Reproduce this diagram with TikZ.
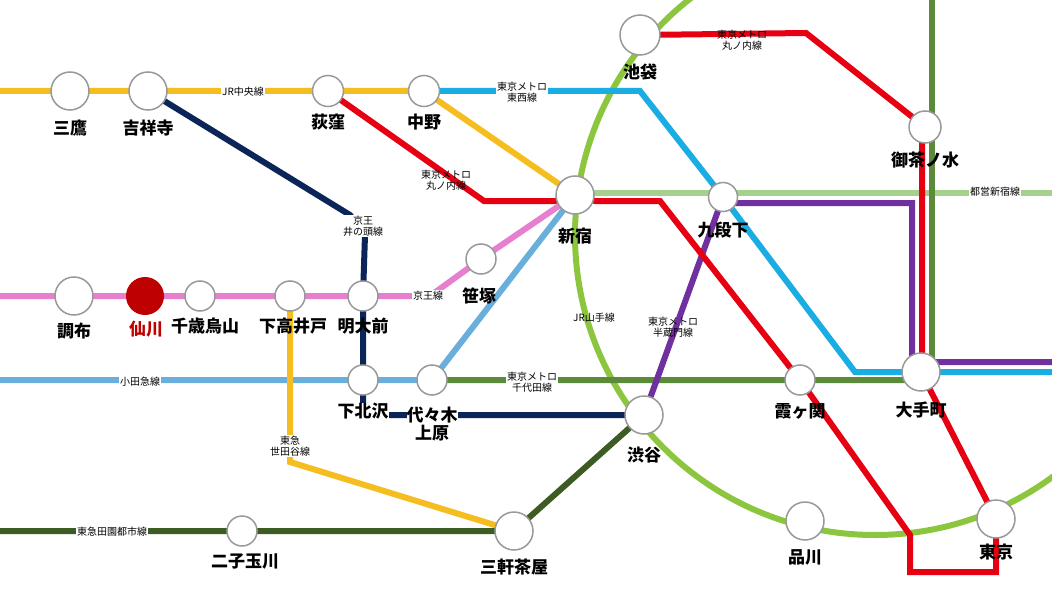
\documentclass[tikz,border=0pt]{standalone}
\usepackage{fontspec}
\setmainfont{Noto Sans CJK JP}
\begin{document}
\begin{tikzpicture}[x=1pt,y=-1pt,
  ln/.style={line width=6pt},
  st/.style={circle,draw=gray!80,line width=1.5pt,fill=white,inner sep=0pt,minimum size=#1},
  st/.default=30pt,
  sn/.style={font=\fontsize{17}{18}\selectfont\bfseries},
  ll/.style={font=\fontsize{10}{11}\selectfont,fill=white,inner sep=1pt,align=center}]
\useasboundingbox (0,0) rectangle (1052,591);
\definecolor{cyel}{HTML}{F5BD1F}\definecolor{ccy}{HTML}{1AADE3}\definecolor{cred}{HTML}{E60012}
\definecolor{cyam}{HTML}{8CC63F}\definecolor{cshj}{HTML}{A5D08D}\definecolor{cchy}{HTML}{5A8A3A}
\definecolor{cpur}{HTML}{7030A0}\definecolor{cnav}{HTML}{0B2559}\definecolor{cpink}{HTML}{E67FCD}
\definecolor{codk}{HTML}{6AAEDB}\definecolor{cden}{HTML}{3D5C23}
% coordinates
\coordinate (mitaka) at (70,91); \coordinate (kichi) at (148,91); \coordinate (ogi) at (328,91);
\coordinate (nakano) at (424,91); \coordinate (ike) at (640,35); \coordinate (ocha) at (925,127);
\coordinate (shinj) at (575,195); \coordinate (kudan) at (723,197); \coordinate (sasa) at (481,259);
\coordinate (chofu) at (74,296); \coordinate (seng) at (145,296); \coordinate (chito) at (200,296);
\coordinate (shimot) at (290,296); \coordinate (meid) at (363,296); \coordinate (shimok) at (363,380);
\coordinate (yoyo) at (432,380); \coordinate (shib) at (644,415); \coordinate (kasu) at (800,380);
\coordinate (ote) at (921,372); \coordinate (futa) at (242,531); \coordinate (sang) at (514,531);
\coordinate (shina) at (805,521); \coordinate (tokyo) at (996,519);
\coordinate (toeiW) at (575,193); \coordinate (toeiE) at (1052,193);
% Yamanote
\begin{scope}
\clip (0,0) rectangle (1052,591);
\draw[ln,cyam] (875,235) circle (300);
\end{scope}
% Toei Shinjuku
\draw[ln,cshj] (toeiW) -- (toeiE);
% Chiyoda
\draw[ln,cchy] (932,0) -- (932,372) -- (ote);
\draw[ln,cchy] (yoyo) -- (910,380) -- (ote);
% Tozai
\draw[ln,ccy] (nakano) -- (640,91) -- (kudan) -- (855,372) -- (1052,372);
% Hanzomon
\draw[ln,cpur] (shib) -- (kudan) -- (735,203) -- (912,203) -- (912,362) -- (1052,362);
% Marunouchi
\draw[ln,cred] (ogi) -- (484,201) -- (555,201) -- (shinj) -- (595,201) -- (660,201) -- (kasu) -- (910,535) -- (910,572) -- (996,572) -- (tokyo) -- (ote) -- (922,372) -- (922,127) -- (ocha) -- (806,33) -- (ike);
% Chuo
\draw[ln,cyel] (0,91) -- (mitaka) -- (kichi) -- (ogi) -- (nakano) -- (shinj);
% Inokashira
\draw[ln,cnav] (kichi) -- (350,215) -- (365,235) -- (meid) -- (shimok) -- (363,415) -- (shib);
% Keio
\draw[ln,cpink] (0,296) -- (meid) -- (430,296) -- (sasa) -- (shinj);
% Odakyu
\draw[ln,codk] (0,380) -- (yoyo) -- (shinj);
% Setagaya
\draw[ln,cyel] (shimot) -- (290,462) -- (sang);
% Den-en-toshi
\draw[ln,cden] (0,531) -- (sang) -- (shib);
% line labels
\node[ll] (lchuo) at (243,92) {JR中央線};
\node[ll] (ltozai) at (522,92) {東京メトロ\\東西線};
\node[ll,fill=none] (lmaru1) at (446,180) {東京メトロ\\丸ノ内線};
\node[ll,fill=none] (lmaru2) at (742,40) {東京メトロ\\丸ノ内線};
\node[ll] (lino) at (363,226) {京王\\井の頭線};
\node[ll] (lkeio) at (428,296) {京王線};
\node[ll] (lshj) at (995,192) {都営新宿線};
\node[ll,fill=none] (lyama) at (594,318) {JR山手線};
\node[ll,fill=none] (lhan) at (673,327) {東京メトロ\\半蔵門線};
\node[ll] (lodk) at (140,382) {小田急線};
\node[ll] (lchiy) at (532,382) {東京メトロ\\千代田線};
\node[ll] (lseta) at (290,446) {東急\\世田谷線};
\node[ll] (lden) at (112,532) {東急田園都市線};
% stations
\foreach \c/\s in {mitaka/38,kichi/38,ogi/31,nakano/31,ike/40,ocha/32,shinj/38,kudan/29,sasa/30,chofu/38,chito/30,shimot/30,meid/30,shimok/30,yoyo/30,shib/38,kasu/30,ote/38,futa/30,sang/38,shina/38,tokyo/38}
  \node[st=\s pt] (s\c) at (\c) {};
\node[circle,fill=red!75!black,inner sep=0pt,minimum size=38pt] (sseng) at (seng) {};
% station names
\node[sn] (nmitaka) at (70,128) {三鷹};
\node[sn] (nkichi) at (148,128) {吉祥寺};
\node[sn] (nogi) at (328,122) {荻窪};
\node[sn] (nnakano) at (424,122) {中野};
\node[sn] (nike) at (640,72) {池袋};
\node[sn] (nocha) at (925,160) {御茶ノ水};
\node[sn] (nshinj) at (575,236) {新宿};
\node[sn] (nkudan) at (723,230) {九段下};
\node[sn] (nsasa) at (479,296) {笹塚};
\node[sn] (nchofu) at (74,331) {調布};
\node[sn,text=red!75!black] (nseng) at (146,329) {仙川};
\node[sn] (nchito) at (205,326) {千歳烏山};
\node[sn] (nshimot) at (293,326) {下高井戸};
\node[sn] (nmeid) at (363,326) {明大前};
\node[sn,fill=white,inner sep=0pt] (nshimok) at (363,411) {下北沢};
\node[sn,align=center,fill=white,inner sep=0pt] (nyoyo) at (432,424) {代々木\\上原};
\node[sn] (nshib) at (644,455) {渋谷};
\node[sn] (nkasu) at (800,411) {霞ヶ関};
\node[sn] (note) at (921,410) {大手町};
\node[sn] (nfuta) at (245,562) {二子玉川};
\node[sn] (nsang) at (514,567) {三軒茶屋};
\node[sn] (nshina) at (805,557) {品川};
\node[sn] (ntokyo) at (996,552) {東京};
\end{tikzpicture}
\end{document}
